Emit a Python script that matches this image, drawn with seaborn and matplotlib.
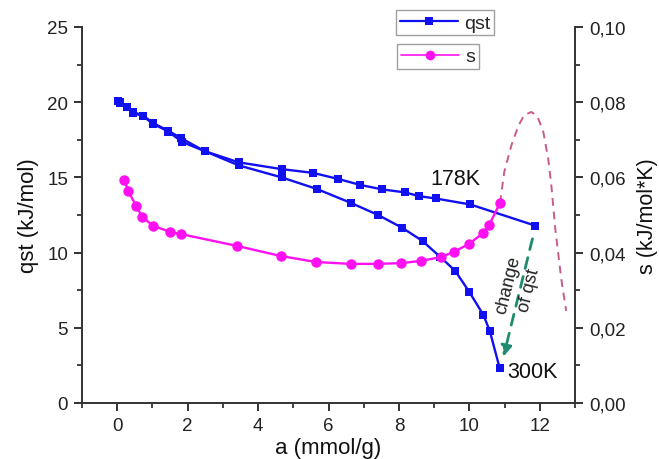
import matplotlib
matplotlib.use("Agg")
import matplotlib.pyplot as plt
import seaborn as sns
import numpy as np
import pandas as pd
from matplotlib.ticker import MultipleLocator, FuncFormatter
from matplotlib.lines import Line2D

# ---- data ----
a_178 = [0.03, 0.09, 0.29, 0.46, 0.74, 1.03, 1.45, 1.82, 2.48, 3.45, 4.67, 5.56, 6.27, 6.9, 7.53, 8.18, 8.58, 9.04, 10.03, 11.86]
q_178 = [20.08, 20.0, 19.7, 19.35, 19.1, 18.6, 18.1, 17.6, 16.75, 16.0, 15.55, 15.3, 14.9, 14.5, 14.2, 14.0, 13.75, 13.6, 13.2, 11.8]

a_300 = [0.03, 0.09, 0.29, 0.46, 0.74, 1.03, 1.45, 1.85, 2.48, 3.45, 4.67, 5.67, 6.64, 7.41, 8.1, 8.67, 9.18, 9.6, 10.0, 10.4, 10.58, 10.86]
q_300 = [20.05, 19.95, 19.65, 19.3, 19.05, 18.55, 18.05, 17.35, 16.75, 15.8, 15.0, 14.23, 13.3, 12.5, 11.64, 10.77, 9.7, 8.78, 7.38, 5.85, 4.79, 2.33]

a_s = [0.2, 0.31, 0.54, 0.71, 1.02, 1.51, 1.82, 3.39, 4.64, 5.64, 6.63, 7.4, 8.06, 8.63, 9.19, 9.56, 9.99, 10.39, 10.56, 10.87]
s_val = [0.0593, 0.0564, 0.0524, 0.0495, 0.0471, 0.0455, 0.0449, 0.0418, 0.0391, 0.0375, 0.0370, 0.0370, 0.0372, 0.0378, 0.0388, 0.0402, 0.0423, 0.0452, 0.0473, 0.0532]

a_s_ext = [10.87, 10.99, 11.19, 11.39, 11.56, 11.76, 11.93, 12.1, 12.24, 12.33, 12.44, 12.61, 12.75]
s_ext = [0.0532, 0.0614, 0.0684, 0.0737, 0.0766, 0.0774, 0.0763, 0.0721, 0.0649, 0.0577, 0.0463, 0.033, 0.0245]

arrow_a = [11.81, 10.95]
arrow_q = [11.1, 2.9]

x_ticks = [0, 2, 4, 6, 8, 10, 12]
yl_ticks = [0, 5, 10, 15, 20, 25]
yr_ticks = [0.00, 0.02, 0.04, 0.06, 0.08, 0.10]

# ---- style ----
sns.set_theme(style="ticks")
plt.rcParams['font.family'] = ['Liberation Sans', 'DejaVu Sans']

BLUE = "#1010f0"
MAG = "#ff10f0"
EXT = "#c85a8c"
TEAL = "#1f8c70"

fig = plt.figure(figsize=(6.59, 4.60), dpi=100)
ax = fig.add_axes([82/659, 1-404/460, (575-82)/659, (404-28)/460])
ax2 = ax.twinx()

df178 = pd.DataFrame({"a": a_178, "q": q_178})
df300 = pd.DataFrame({"a": a_300, "q": q_300})
dfs = pd.DataFrame({"a": a_s, "s": s_val})
dfe = pd.DataFrame({"a": a_s_ext, "s": s_ext})

sns.lineplot(data=df300, x="a", y="q", ax=ax, sort=False, estimator=None, color=BLUE,
             marker="s", markersize=6, markeredgewidth=0, linewidth=1.7, legend=False)
sns.lineplot(data=df178, x="a", y="q", ax=ax, sort=False, estimator=None, color=BLUE,
             marker="s", markersize=6, markeredgewidth=0, linewidth=1.7, legend=False)

sns.lineplot(data=dfe, x="a", y="s", ax=ax2, sort=False, estimator=None, color=EXT,
             linewidth=1.4, linestyle=(0, (4, 3)), legend=False)
sns.lineplot(data=dfs, x="a", y="s", ax=ax2, sort=False, estimator=None, color=MAG,
             marker="o", markersize=7.5, markeredgewidth=0, linewidth=1.7, legend=False)

# change arrow
ax.annotate("", xy=(arrow_a[1], arrow_q[1]), xytext=(arrow_a[0], arrow_q[0]),
            arrowprops=dict(arrowstyle="-|>", color=TEAL, lw=2.0, linestyle=(0, (4, 3)),
                            mutation_scale=16))
ax.text(11.4, 7.7, "change\nof qst", rotation=76, ha="center", va="center",
        fontsize=13, color="#222222", linespacing=1.3)
ax.text(9.6, 14.9, "178K", fontsize=15.5, ha="center", va="center", color="#111111")
ax.text(11.08, 2.1, "300K", fontsize=15.5, ha="left", va="center", color="#111111")

# axes limits & ticks
ax.set_xlim(-1, 13)
ax.set_ylim(0, 25)
ax2.set_ylim(0, 0.10)
ax.set_xticks(x_ticks)
ax.set_yticks(yl_ticks)
ax2.set_yticks(yr_ticks)
ax.xaxis.set_minor_locator(MultipleLocator(1))
ax.yaxis.set_minor_locator(MultipleLocator(2.5))
ax2.yaxis.set_minor_locator(MultipleLocator(0.01))
ax2.yaxis.set_major_formatter(FuncFormatter(lambda v, p: f"{v:.2f}".replace(".", ",")))

for a_ in (ax, ax2):
    a_.tick_params(which="major", length=6, width=1.3, labelsize=13.5, colors="#222222", pad=4)
    a_.tick_params(which="minor", length=3.5, width=1.2, colors="#222222")
    for sp in a_.spines.values():
        sp.set_linewidth(1.4)
        sp.set_color("#333333")
    a_.spines["top"].set_visible(False)
ax.spines["right"].set_visible(False)
ax2.spines["left"].set_visible(False)
ax2.spines["bottom"].set_visible(False)

ax.set_xlabel("a (mmol/g)", fontsize=16, labelpad=2, color="#111111")
ax.set_ylabel("qst (kJ/mol)", fontsize=16, labelpad=6, color="#111111")
ax2.set_ylabel("s (kJ/mol*K)", fontsize=15.5, labelpad=8, color="#111111")

# legends (two separate boxes)
h1 = Line2D([], [], color=BLUE, marker="s", markersize=6, markeredgewidth=0, linewidth=1.6)
h2 = Line2D([], [], color=MAG, marker="o", markersize=7, markeredgewidth=0, linewidth=1.2)
leg1 = ax2.legend([h1], ["qst"], loc="upper left", bbox_to_anchor=(0.637, 1.045),
                  fontsize=14, frameon=True, fancybox=False, edgecolor="#888888",
                  handlelength=3.0, handletextpad=0.3, borderpad=0.2, borderaxespad=0)
leg1.get_frame().set_linewidth(1.0)
ax2.add_artist(leg1)
leg2 = ax2.legend([h2], ["s"], loc="upper left", bbox_to_anchor=(0.639, 0.955),
                  fontsize=14, frameon=True, fancybox=False, edgecolor="#888888",
                  handlelength=3.0, handletextpad=0.3, borderpad=0.2, borderaxespad=0)
leg2.get_frame().set_linewidth(1.0)

fig.savefig("out.png", dpi=100)
